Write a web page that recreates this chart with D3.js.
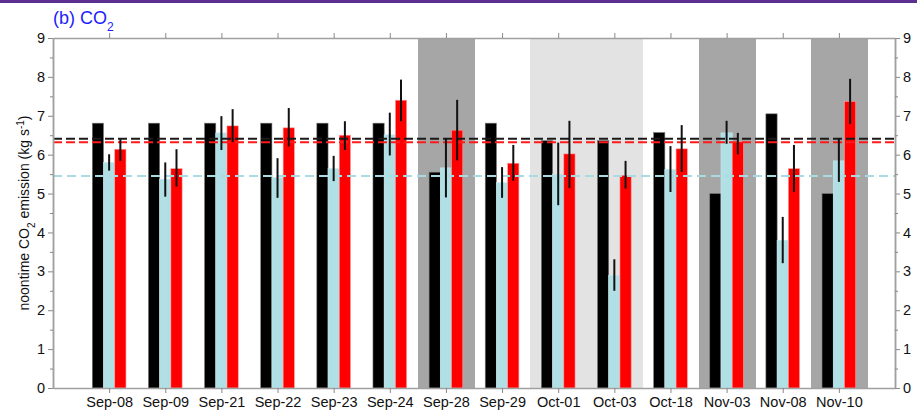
<!DOCTYPE html>
<html>
<head>
<meta charset="UTF-8">
<title>noontime CO2 emission</title>
<script src="https://cdn.jsdelivr.net/npm/d3@7"></script>
<style>
body { margin: 0; background: #fff; }
#chart text { font-family: "Liberation Sans", Arial, sans-serif; }
</style>
</head>
<body>
<div id="chart"></div>
<script>
// data
var dates = ["Sep-08","Sep-09","Sep-21","Sep-22","Sep-23","Sep-24","Sep-28","Sep-29","Oct-01","Oct-03","Oct-18","Nov-03","Nov-08","Nov-10"];
var blackVals = [6.81, 6.81, 6.81, 6.81, 6.81, 6.81, 5.55, 6.81, 6.36, 6.36, 6.57, 5.0, 7.05, 5.0];
var blueVals  = [5.80, 5.37, 6.56, 5.41, 5.64, 6.51, 5.66, 5.28, 5.50, 2.90, 5.62, 6.56, 3.80, 5.84];
var blueLo    = [5.59, 4.92, 6.12, 4.89, 5.32, 5.98, 4.90, 4.89, 4.70, 2.50, 5.04, 6.28, 3.21, 5.30];
var blueHi    = [6.01, 5.80, 6.99, 5.91, 5.97, 7.08, 6.42, 5.68, 6.31, 3.31, 6.22, 6.87, 4.40, 6.42];
var redVals   = [6.14, 5.64, 6.74, 6.69, 6.50, 7.40, 6.63, 5.78, 6.02, 5.47, 6.15, 6.33, 5.64, 7.37];
var redLo     = [5.84, 5.18, 6.32, 6.21, 6.12, 6.86, 5.85, 5.33, 5.14, 5.13, 5.56, 6.01, 5.04, 6.79];
var redHi     = [6.40, 6.14, 7.17, 7.20, 6.86, 7.93, 7.41, 6.25, 6.87, 5.84, 6.76, 6.56, 6.25, 7.95];
var meanLines = [
  {v: 6.41, color: "#1a1a1a", dash: "9,4"},
  {v: 6.32, color: "#ff1a1a", dash: "9,4"},
  {v: 5.45, color: "#a8dbe2", dash: "9,5"}
];
var darkShade = ["Sep-28", "Nov-03", "Nov-10"];
var lightShade = ["Oct-01", "Oct-03"];
var yTicks = [0,1,2,3,4,5,6,7,8,9];
var yMinor = [0.5,1.5,2.5,3.5,4.5,5.5,6.5,7.5,8.5];

var W = 917, H = 417;
var m = {left: 53, right: 895, top: 38, bottom: 388};

var svg = d3.select("#chart").append("svg")
    .attr("width", W).attr("height", H);

// purple strip at the very top
svg.append("rect").attr("x", 0).attr("y", 0).attr("width", W).attr("height", 3)
    .attr("fill", "#5c3090");

var x = d3.scaleLinear().domain([-1, 14]).range([m.left, m.right]);
var y = d3.scaleLinear().domain([0, 9]).range([m.bottom, m.top]);
var bw = x(0.2) - x(0);

// shaded days
svg.append("g").attr("shape-rendering", "crispEdges").selectAll("rect")
    .data(darkShade.map(function(d) { return {d: d, c: "#a6a6a6"}; })
      .concat(lightShade.map(function(d) { return {d: d, c: "#e3e3e3"}; })))
  .enter().append("rect")
    .attr("x", function(d) { return Math.round(x(dates.indexOf(d.d) - 0.5)); })
    .attr("width", function(d) {
      var i = dates.indexOf(d.d);
      return Math.round(x(i + 0.5)) - Math.round(x(i - 0.5)) + 0.5;
    })
    .attr("y", y(9))
    .attr("height", y(0) - y(9))
    .attr("fill", function(d) { return d.c; });

// bars
var series = [
  {vals: blackVals, off: -0.2, color: "#000000", edge: "#7a7a7a"},
  {vals: blueVals, off: 0, color: "#b0e0e6", edge: "#c9e9ee"},
  {vals: redVals, off: 0.2, color: "#ff0000", edge: "#ff9a9a"}
];
series.forEach(function(s) {
  svg.append("g").selectAll("rect")
      .data(s.vals)
    .enter().append("rect")
      .attr("x", function(d, i) { return x(i + s.off) - bw / 2; })
      .attr("width", bw)
      .attr("y", function(d) { return y(d); })
      .attr("height", function(d) { return y(0) - y(d); })
      .attr("fill", s.color)
      .attr("stroke", s.edge)
      .attr("stroke-width", 0.6);
});

// mean lines
svg.append("g").selectAll("line")
    .data(meanLines)
  .enter().append("line")
    .attr("x1", m.left).attr("x2", m.right)
    .attr("y1", function(d) { return y(d.v); })
    .attr("y2", function(d) { return y(d.v); })
    .attr("stroke", function(d) { return d.color; })
    .attr("stroke-width", 2)
    .attr("stroke-dasharray", function(d) { return d.dash; });

// error bars
function errBars(lo, hi, off) {
  svg.append("g").selectAll("line")
      .data(lo)
    .enter().append("line")
      .attr("x1", function(d, i) { return x(i + off); })
      .attr("x2", function(d, i) { return x(i + off); })
      .attr("y1", function(d) { return y(d); })
      .attr("y2", function(d, i) { return y(hi[i]); })
      .attr("stroke", "#111")
      .attr("stroke-width", 2);
}
errBars(blueLo, blueHi, 0);
errBars(redLo, redHi, 0.2);

// axes
var axisColor = "#a0a0a0";
function styleAxis(g, size) {
  g.selectAll(".domain").attr("stroke", axisColor).attr("stroke-width", 1.5);
  g.selectAll(".tick line").attr("stroke", "#888").attr("stroke-width", 1);
  g.selectAll("text").attr("fill", "#111").style("font-size", size);
}

var gl = svg.append("g").attr("transform", "translate(" + m.left + ",0)")
    .call(d3.axisLeft(y).tickValues(yTicks).tickSize(5).tickSizeOuter(0).tickPadding(3));
styleAxis(gl, "14.5px");
var glm = svg.append("g").attr("transform", "translate(" + m.left + ",0)")
    .call(d3.axisLeft(y).tickValues(yMinor).tickSize(3).tickSizeOuter(0).tickFormat(""));
styleAxis(glm, "13px");

var gr = svg.append("g").attr("transform", "translate(" + m.right + ",0)")
    .call(d3.axisRight(y).tickValues(yTicks).tickSize(5).tickSizeOuter(0).tickPadding(3));
styleAxis(gr, "14.5px");
var grm = svg.append("g").attr("transform", "translate(" + m.right + ",0)")
    .call(d3.axisRight(y).tickValues(yMinor).tickSize(3).tickSizeOuter(0).tickFormat(""));
styleAxis(grm, "13px");

var idx = dates.map(function(d, i) { return i; });
var gb = svg.append("g").attr("transform", "translate(0," + m.bottom + ")")
    .call(d3.axisBottom(x).tickValues(idx).tickSize(5).tickSizeOuter(0).tickPadding(4)
      .tickFormat(function(i) { return dates[i]; }));
styleAxis(gb, "14.5px");

var gt = svg.append("g").attr("transform", "translate(0," + m.top + ")")
    .call(d3.axisTop(x).tickValues(idx).tickSize(5).tickSizeOuter(0).tickFormat(""));
styleAxis(gt, "13px");

// y label
var ylab = svg.append("text")
    .attr("transform", "translate(29," + 213 + ") rotate(-90)")
    .attr("text-anchor", "middle")
    .attr("fill", "#111")
    .style("font-size", "14px");
ylab.append("tspan").text("noontime CO");
ylab.append("tspan").attr("baseline-shift", "sub").style("font-size", "10px").text("2");
ylab.append("tspan").text(" emission (kg s");
ylab.append("tspan").attr("baseline-shift", "super").style("font-size", "10px").text("-1");
ylab.append("tspan").text(")");

// panel title
var title = svg.append("text")
    .attr("x", 53).attr("y", 24)
    .attr("fill", "#1c1cff")
    .style("font-size", "18px");
title.append("tspan").text("(b) CO");
title.append("tspan").attr("baseline-shift", "sub").style("font-size", "12px").text("2");
</script>
</body>
</html>
